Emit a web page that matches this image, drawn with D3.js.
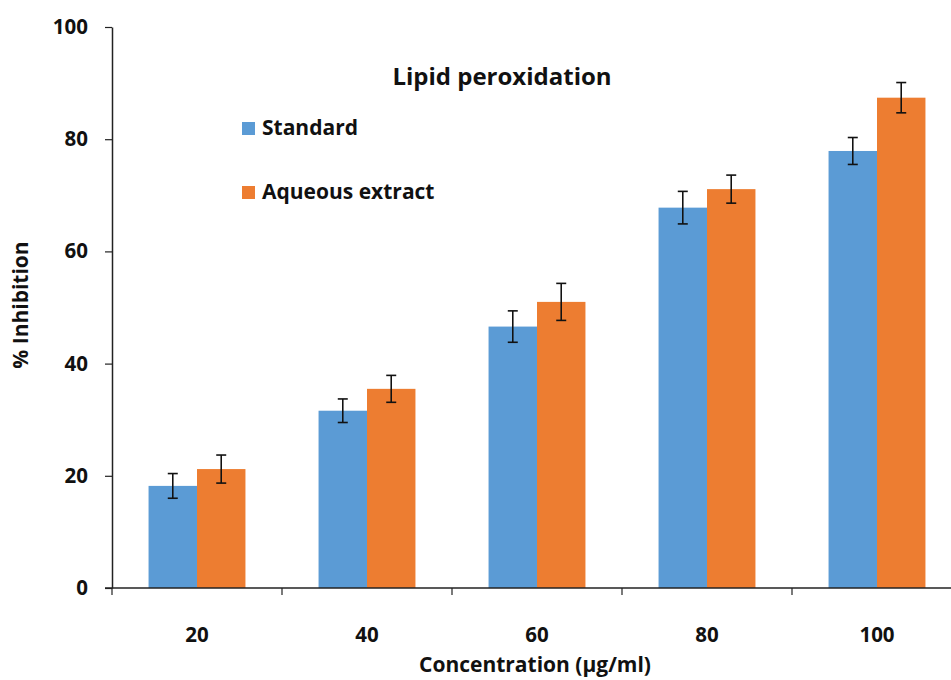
<!DOCTYPE html>
<html><head><meta charset="utf-8">
<script src="https://cdn.jsdelivr.net/npm/d3@7"></script>
<style>body{margin:0;background:#fff;}svg{display:block;font-family:"Open Sans",sans-serif;font-weight:bold;}</style>
</head><body><svg id="c" width="951" height="680"></svg>
<script>
const categories = ["20","40","60","80","100"];
const seriesNames = ["Standard","Aqueous extract"];
const standardValues = [18.2, 31.6, 46.6, 67.8, 77.9];
const standardErrors = [2.2, 2.1, 2.8, 2.9, 2.4];
const extractValues = [21.2, 35.5, 51.0, 71.1, 87.4];
const extractErrors = [2.5, 2.4, 3.3, 2.5, 2.7];
const yTicks = [0,20,40,60,80,100];
const colors = ["#5B9BD5","#ED7D31"];

(function(){
const svg = d3.select("#c");
const mLeft = 112, mRight = 962, mTop = 27, mBottom = 588;
const y = d3.scaleLinear().domain([0,100]).range([mBottom, mTop]);
const x0 = d3.scaleBand().domain(categories).range([mLeft, mRight]).paddingInner(0.43).paddingOuter(0.215);
const x1 = d3.scaleBand().domain(seriesNames).range([0, x0.bandwidth()]);

const series = [
  {name: seriesNames[0], values: standardValues, errors: standardErrors, color: colors[0]},
  {name: seriesNames[1], values: extractValues, errors: extractErrors, color: colors[1]}
];
const data = [];
series.forEach(s => categories.forEach((c,i) => data.push({cat:c, name:s.name, v:s.values[i], e:s.errors[i], color:s.color})));

svg.selectAll("rect.bar").data(data).enter().append("rect")
  .attr("class","bar")
  .attr("x", d => x0(d.cat) + x1(d.name))
  .attr("width", x1.bandwidth())
  .attr("y", d => y(d.v))
  .attr("height", d => y(0) - y(d.v))
  .attr("fill", d => d.color);

// error bars
const eg = svg.append("g").attr("stroke","#111").attr("stroke-width",1.6);
data.forEach(d => {
  const cx = x0(d.cat) + x1(d.name) + x1.bandwidth()/2;
  eg.append("line").attr("x1",cx).attr("x2",cx).attr("y1",y(d.v+d.e)).attr("y2",y(d.v-d.e));
  eg.append("line").attr("x1",cx-5).attr("x2",cx+5).attr("y1",y(d.v+d.e)).attr("y2",y(d.v+d.e));
  eg.append("line").attr("x1",cx-5).attr("x2",cx+5).attr("y1",y(d.v-d.e)).attr("y2",y(d.v-d.e));
});

// y axis
const yAxis = d3.axisLeft(y).tickValues(yTicks).tickSize(7).tickSizeOuter(0).tickPadding(17);
const ya = svg.append("g").attr("transform",`translate(${mLeft},0)`).call(yAxis);
ya.select(".domain").attr("stroke","#222").attr("stroke-width",1.5);
ya.selectAll(".tick line").attr("stroke","#222").attr("stroke-width",1.2);
ya.selectAll(".tick text").attr("font-size",20.5).attr("font-weight","bold").attr("fill","#111").attr("font-family","'Open Sans', sans-serif");

// x axis
svg.append("line").attr("x1",mLeft-7).attr("x2",951).attr("y1",mBottom).attr("y2",mBottom).attr("stroke","#222").attr("stroke-width",1.5);
const boundaries = categories.map(c => x0(c) - x0.step()*x0.paddingOuter()).concat([mRight]);
svg.selectAll("line.xt").data(boundaries).enter().append("line").attr("class","xt")
  .attr("x1",d=>d).attr("x2",d=>d).attr("y1",mBottom).attr("y2",mBottom+7).attr("stroke","#222").attr("stroke-width",1.2);
svg.selectAll("text.xl").data(categories).enter().append("text").attr("class","xl")
  .attr("x", d => x0(d) + x0.bandwidth()/2).attr("y", 642)
  .attr("text-anchor","middle").attr("font-size",20.5).attr("fill","#111").text(d=>d);

// titles
svg.append("text").attr("x",502).attr("y",85).attr("text-anchor","middle").attr("font-size",24).attr("fill","#111").text("Lipid peroxidation");
svg.append("text").attr("x",535).attr("y",672).attr("text-anchor","middle").attr("font-size",21).attr("fill","#111").text("Concentration (µg/ml)");
svg.append("text").attr("transform","translate(28,305) rotate(-90)").attr("text-anchor","middle").attr("font-size",21).attr("fill","#111").text("% Inhibition");

// legend
const lg = svg.append("g");
series.forEach((s,i) => {
  const ly = 135 + i*64;
  lg.append("rect").attr("x",242).attr("y",ly-13).attr("width",13).attr("height",13).attr("fill",s.color);
  lg.append("text").attr("x",262).attr("y",ly).attr("font-size",21).attr("fill","#111").text(s.name);
});
})();
</script></body></html>
